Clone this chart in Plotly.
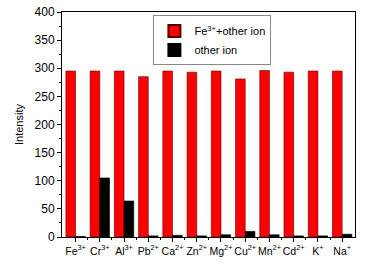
import plotly.graph_objects as go

ions = ["Fe<sup>3+</sup>", "Cr<sup>3+</sup>", "Al<sup>3+</sup>", "Pb<sup>2+</sup>", "Ca<sup>2+</sup>",
        "Zn<sup>2+</sup>", "Mg<sup>2+</sup>", "Cu<sup>2+</sup>", "Mn<sup>2+</sup>", "Cd<sup>2+</sup>",
        "K<sup>+</sup>", "Na<sup>+</sup>"]
fe_plus_ion = [295, 295, 295, 285, 295, 293, 295, 281, 296, 293, 295, 295]
ion_only = [1, 105, 64, 2, 3, 2, 4, 10, 4, 2, 2, 5]
positions = list(range(1, len(ions) + 1))

fig = go.Figure()
fig.add_trace(go.Bar(x=positions, y=fe_plus_ion, name="Fe<sup>3+</sup>+other ion",
                     marker=dict(color="#ff0000", line=dict(color="#550000", width=0.6))))
fig.add_trace(go.Bar(x=positions, y=ion_only, name="other ion",
                     marker=dict(color="#000000", line=dict(color="#000000", width=0.6))))

fig.update_layout(
    width=372, height=264,
    margin=dict(l=62, r=17, t=12, b=27, autoexpand=False),
    barmode="group", bargap=0.2, bargroupgap=0,
    plot_bgcolor="white", paper_bgcolor="white",
    font=dict(family="Liberation Sans, Arial, sans-serif", size=11, color="black"),
    legend=dict(x=0.312, y=0.985, xanchor="left", yanchor="top",
                bgcolor="white", bordercolor="#888888", borderwidth=1,
                font=dict(size=11), tracegroupgap=0, itemsizing="constant"),
    showlegend=True,
)
fig.update_xaxes(
    range=[0.44, 12.53], tickvals=positions, ticktext=ions, tickangle=0, automargin=False,
    showline=True, linecolor="black", linewidth=1, mirror=True,
    ticks="outside", ticklen=4, tickcolor="black", showgrid=False, zeroline=False,
    tickfont=dict(size=10.5),
    minor=dict(tickvals=[p + 0.5 for p in positions[:-1]], ticks="outside", ticklen=2, tickcolor="black"),
)
fig.update_yaxes(
    range=[0, 400], dtick=50, automargin=False,
    title=dict(text="Intensity", font=dict(size=11), standoff=8),
    showline=True, linecolor="black", linewidth=1, mirror=True,
    ticks="outside", ticklen=4, tickcolor="black", showgrid=False, zeroline=False,
    tickfont=dict(size=12),
    minor=dict(dtick=25, ticks="outside", ticklen=2, tickcolor="black"),
)

fig.write_html("out.html", config={"displayModeBar": False},
               post_script="document.body.style.margin='0';")
